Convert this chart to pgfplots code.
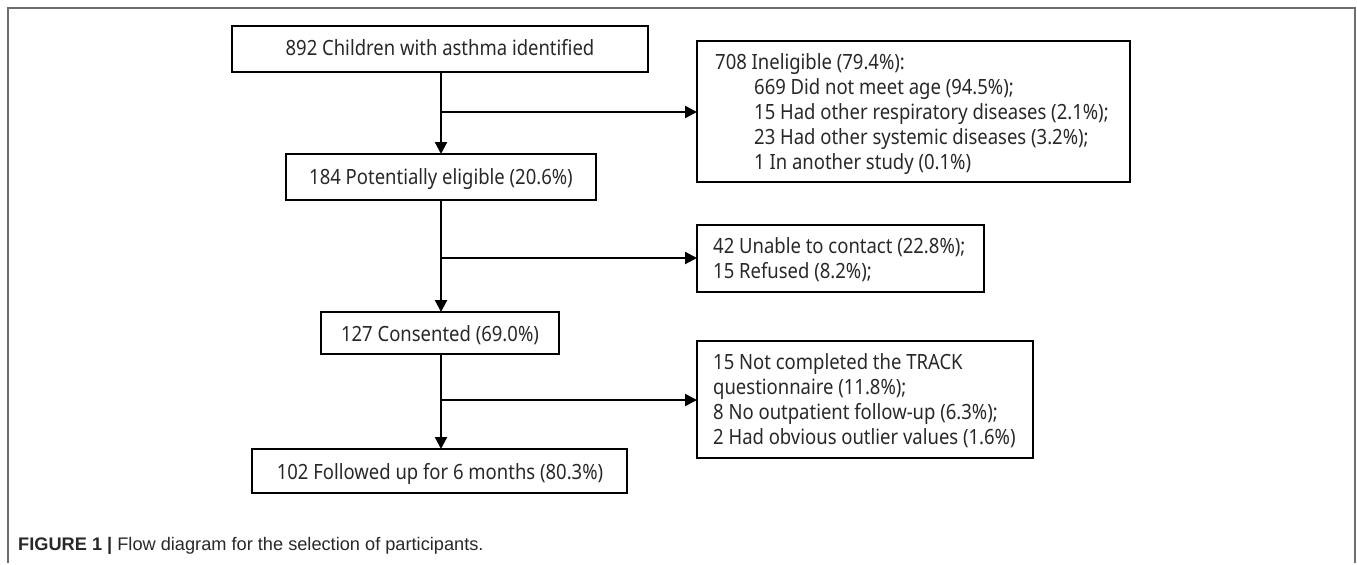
\documentclass[border=0pt]{standalone}
\usepackage{pgfplots}
\pgfplotsset{compat=1.18}
\usepackage{fontspec}
\setmainfont{Liberation Sans}
\newfontfamily\boxfont[FakeStretch=0.88]{Noto Sans}
\usetikzlibrary{arrows.meta}
\definecolor{frameg}{RGB}{110,110,110}
\definecolor{txt}{RGB}{40,40,40}
\tikzset{boxtext/.style={font=\boxfont\fontsize{21bp}{25bp}\selectfont, text=txt, inner sep=0pt}}
\begin{document}
\begin{tikzpicture}
\begin{axis}[
  width=1357bp, height=563bp, scale only axis,
  xmin=0, xmax=1357, ymin=0, ymax=563, y dir=reverse,
  hide axis, clip=false,
]
\path (axis cs:0,0) rectangle (axis cs:1357,563);
% outer frame
\addplot[frameg, line width=2bp, line join=miter] coordinates {(8,563) (8,8) (1355,8) (1355,563)};
% boxes
\addplot[black, line width=2.4bp, line cap=rect, line join=miter] coordinates {(232,26) (648,26) (648,72) (232,72) (232,26)};
\addplot[black, line width=2.4bp, line cap=rect, line join=miter] coordinates {(286,154) (596,154) (596,200) (286,200) (286,154)};
\addplot[black, line width=2.4bp, line cap=rect, line join=miter] coordinates {(321,312) (559,312) (559,354) (321,354) (321,312)};
\addplot[black, line width=2.4bp, line cap=rect, line join=miter] coordinates {(252,449) (627,449) (627,493) (252,493) (252,449)};
\addplot[black, line width=2.4bp, line cap=rect, line join=miter] coordinates {(697,41) (1130,41) (1130,182) (697,182) (697,41)};
\addplot[black, line width=2.4bp, line cap=rect, line join=miter] coordinates {(697,225) (984,225) (984,292) (697,292) (697,225)};
\addplot[black, line width=2.4bp, line cap=rect, line join=miter] coordinates {(697,341) (1033,341) (1033,458) (697,458) (697,341)};
% arrows
\addplot[black, line width=2.2bp, -{Triangle[length=12bp,width=12bp]}] coordinates {(441,72) (441,154)};
\addplot[black, line width=2.2bp, -{Triangle[length=12bp,width=12bp]}] coordinates {(441,200) (441,312)};
\addplot[black, line width=2.2bp, -{Triangle[length=12bp,width=12bp]}] coordinates {(441,354) (441,449)};
\addplot[black, line width=2.2bp, -{Triangle[length=12bp,width=12bp]}] coordinates {(441,112) (697,112)};
\addplot[black, line width=2.2bp, -{Triangle[length=12bp,width=12bp]}] coordinates {(441,258) (697,258)};
\addplot[black, line width=2.2bp, -{Triangle[length=12bp,width=12bp]}] coordinates {(441,400) (697,400)};
% main texts
\node[boxtext, anchor=base] at (axis cs:440,56) {892 Children with asthma identified};
\node[boxtext, anchor=base] at (axis cs:441,184) {184 Potentially eligible (20.6\%)};
\node[boxtext, anchor=base] at (axis cs:440,341) {127 Consented (69.0\%)};
\node[boxtext, anchor=base] at (axis cs:440,479) {102 Followed up for 6 months (80.3\%)};
% side texts
\node[boxtext, anchor=base west] at (axis cs:715,69) {708 Ineligible (79.4\%):};
\node[boxtext, anchor=base west] at (axis cs:754,94) {669 Did not meet age (94.5\%);};
\node[boxtext, anchor=base west] at (axis cs:754,119) {15 Had other respiratory diseases (2.1\%);};
\node[boxtext, anchor=base west] at (axis cs:754,144) {23 Had other systemic diseases (3.2\%);};
\node[boxtext, anchor=base west] at (axis cs:754,169) {1 In another study (0.1\%)};
\node[boxtext, anchor=base west] at (axis cs:713,253) {42 Unable to contact (22.8\%);};
\node[boxtext, anchor=base west] at (axis cs:713,278) {15 Refused (8.2\%);};
\node[boxtext, anchor=base west] at (axis cs:713,369) {15 Not completed the TRACK};
\node[boxtext, anchor=base west] at (axis cs:713,394) {questionnaire (11.8\%);};
\node[boxtext, anchor=base west] at (axis cs:713,419) {8 No outpatient follow-up (6.3\%);};
\node[boxtext, anchor=base west] at (axis cs:713,444) {2 Had obvious outlier values (1.6\%)};
% caption
\node[anchor=base west, inner sep=0pt, text=txt, font=\fontsize{18.2bp}{22bp}\selectfont] at (axis cs:18,550) {\textbf{FIGURE 1 |} Flow diagram for the selection of participants.};
\end{axis}
\end{tikzpicture}
\end{document}
